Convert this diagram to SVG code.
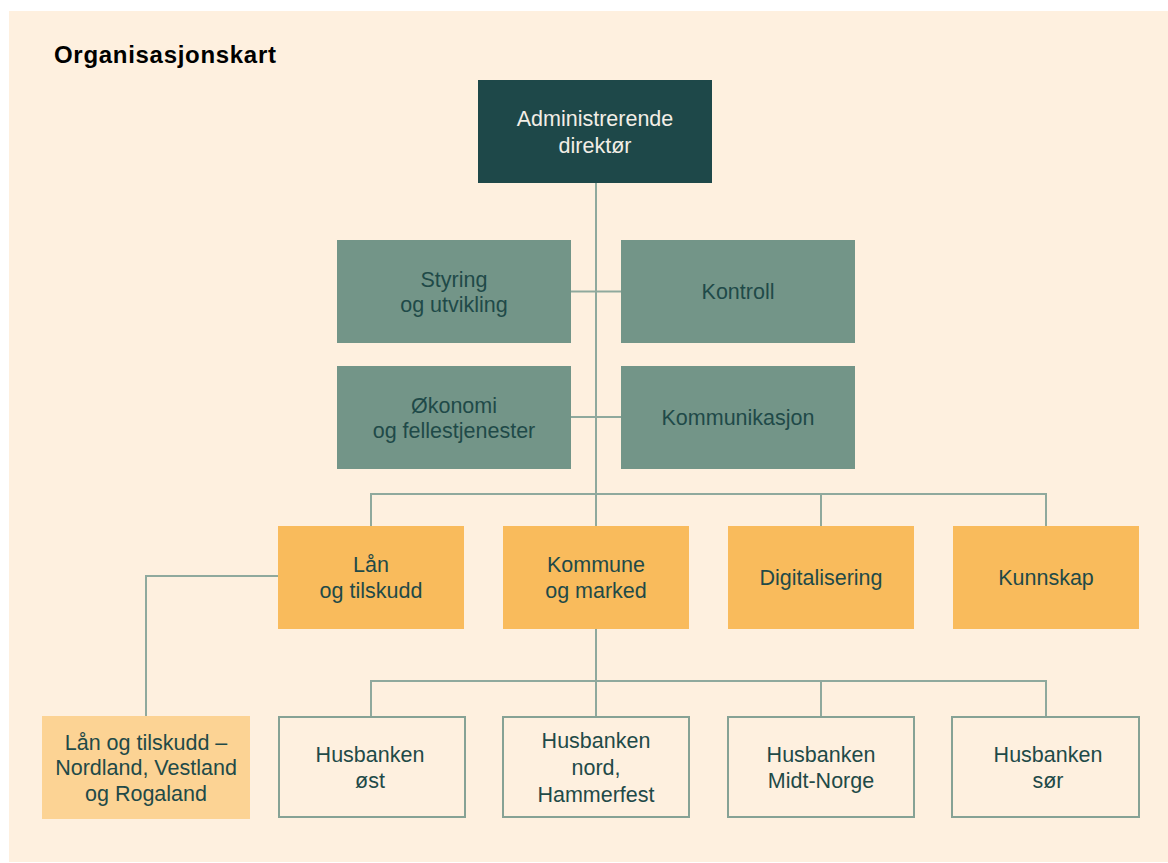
<svg xmlns="http://www.w3.org/2000/svg" width="1168" height="863" viewBox="0 0 1168 863">
<style>
.t{font-family:"Liberation Sans",Arial,sans-serif;font-size:21.5px;fill:#1f4a48;text-anchor:middle}
.tw{fill:#f2eee6}
.top{fill:#1e4849}
.staff{fill:#739588}
.div{fill:#f9bb5c}
.reg{fill:#fcd394}
.out{fill:none;stroke:#86a295;stroke-width:2}
.c{fill:none;stroke:#8fa99d;stroke-width:2}
.title{font-family:"Liberation Sans",Arial,sans-serif;font-weight:bold;font-size:24px;fill:#000;letter-spacing:0.7px}
</style>
<rect x="9" y="11" width="1159" height="851" fill="#fef0df"/>
<text class="title" x="54" y="63">Organisasjonskart</text>
<g id="connectors">
<line class="c" x1="596" y1="183" x2="596" y2="526"/>
<line class="c" x1="571" y1="291.5" x2="621" y2="291.5"/>
<line class="c" x1="571" y1="417" x2="621" y2="417"/>
<polyline class="c" points="371,526 371,494 1046,494 1046,526"/>
<line class="c" x1="821" y1="494" x2="821" y2="526"/>
<polyline class="c" points="278,576 146,576 146,716"/>
<line class="c" x1="596" y1="629" x2="596" y2="717"/>
<polyline class="c" points="371,717 371,681 1046,681 1046,717"/>
<line class="c" x1="821" y1="681" x2="821" y2="717"/>
</g>
<g id="n-adm"><rect class="top" x="478" y="80" width="234" height="103"/><text class="t tw" x="595" y="126">Administrerende</text><text class="t tw" x="595" y="153">direktør</text></g>
<g id="n-styring"><rect class="staff" x="337" y="240" width="234" height="103"/><text class="t" x="454" y="287">Styring</text><text class="t" x="454" y="312">og utvikling</text></g>
<g id="n-kontroll"><rect class="staff" x="621" y="240" width="234" height="103"/><text class="t" x="738" y="299">Kontroll</text></g>
<g id="n-okonomi"><rect class="staff" x="337" y="366" width="234" height="103"/><text class="t" x="454" y="413">Økonomi</text><text class="t" x="454" y="438">og fellestjenester</text></g>
<g id="n-komm"><rect class="staff" x="621" y="366" width="234" height="103"/><text class="t" x="738" y="425">Kommunikasjon</text></g>
<g id="n-lan"><rect class="div" x="278" y="526" width="186" height="103"/><text class="t" x="371" y="572">Lån</text><text class="t" x="371" y="598">og tilskudd</text></g>
<g id="n-kommune"><rect class="div" x="503" y="526" width="186" height="103"/><text class="t" x="596" y="572">Kommune</text><text class="t" x="596" y="598">og marked</text></g>
<g id="n-digi"><rect class="div" x="728" y="526" width="186" height="103"/><text class="t" x="821" y="585">Digitalisering</text></g>
<g id="n-kunnskap"><rect class="div" x="953" y="526" width="186" height="103"/><text class="t" x="1046" y="585">Kunnskap</text></g>
<g id="n-lanreg"><rect class="reg" x="42" y="716" width="208" height="103"/><text class="t" x="146" y="750">Lån og tilskudd –</text><text class="t" x="146" y="775">Nordland, Vestland</text><text class="t" x="146" y="801">og Rogaland</text></g>
<g id="n-ost"><rect class="out" x="279" y="717" width="186" height="100"/><text class="t" x="370" y="762">Husbanken</text><text class="t" x="370" y="788">øst</text></g>
<g id="n-nord"><rect class="out" x="503" y="717" width="186" height="100"/><text class="t" x="596" y="748">Husbanken</text><text class="t" x="596" y="775">nord,</text><text class="t" x="596" y="802">Hammerfest</text></g>
<g id="n-midt"><rect class="out" x="728" y="717" width="186" height="100"/><text class="t" x="821" y="762">Husbanken</text><text class="t" x="821" y="788">Midt-Norge</text></g>
<g id="n-sor"><rect class="out" x="952" y="717" width="187" height="100"/><text class="t" x="1048" y="762">Husbanken</text><text class="t" x="1048" y="788">sør</text></g>
</svg>
